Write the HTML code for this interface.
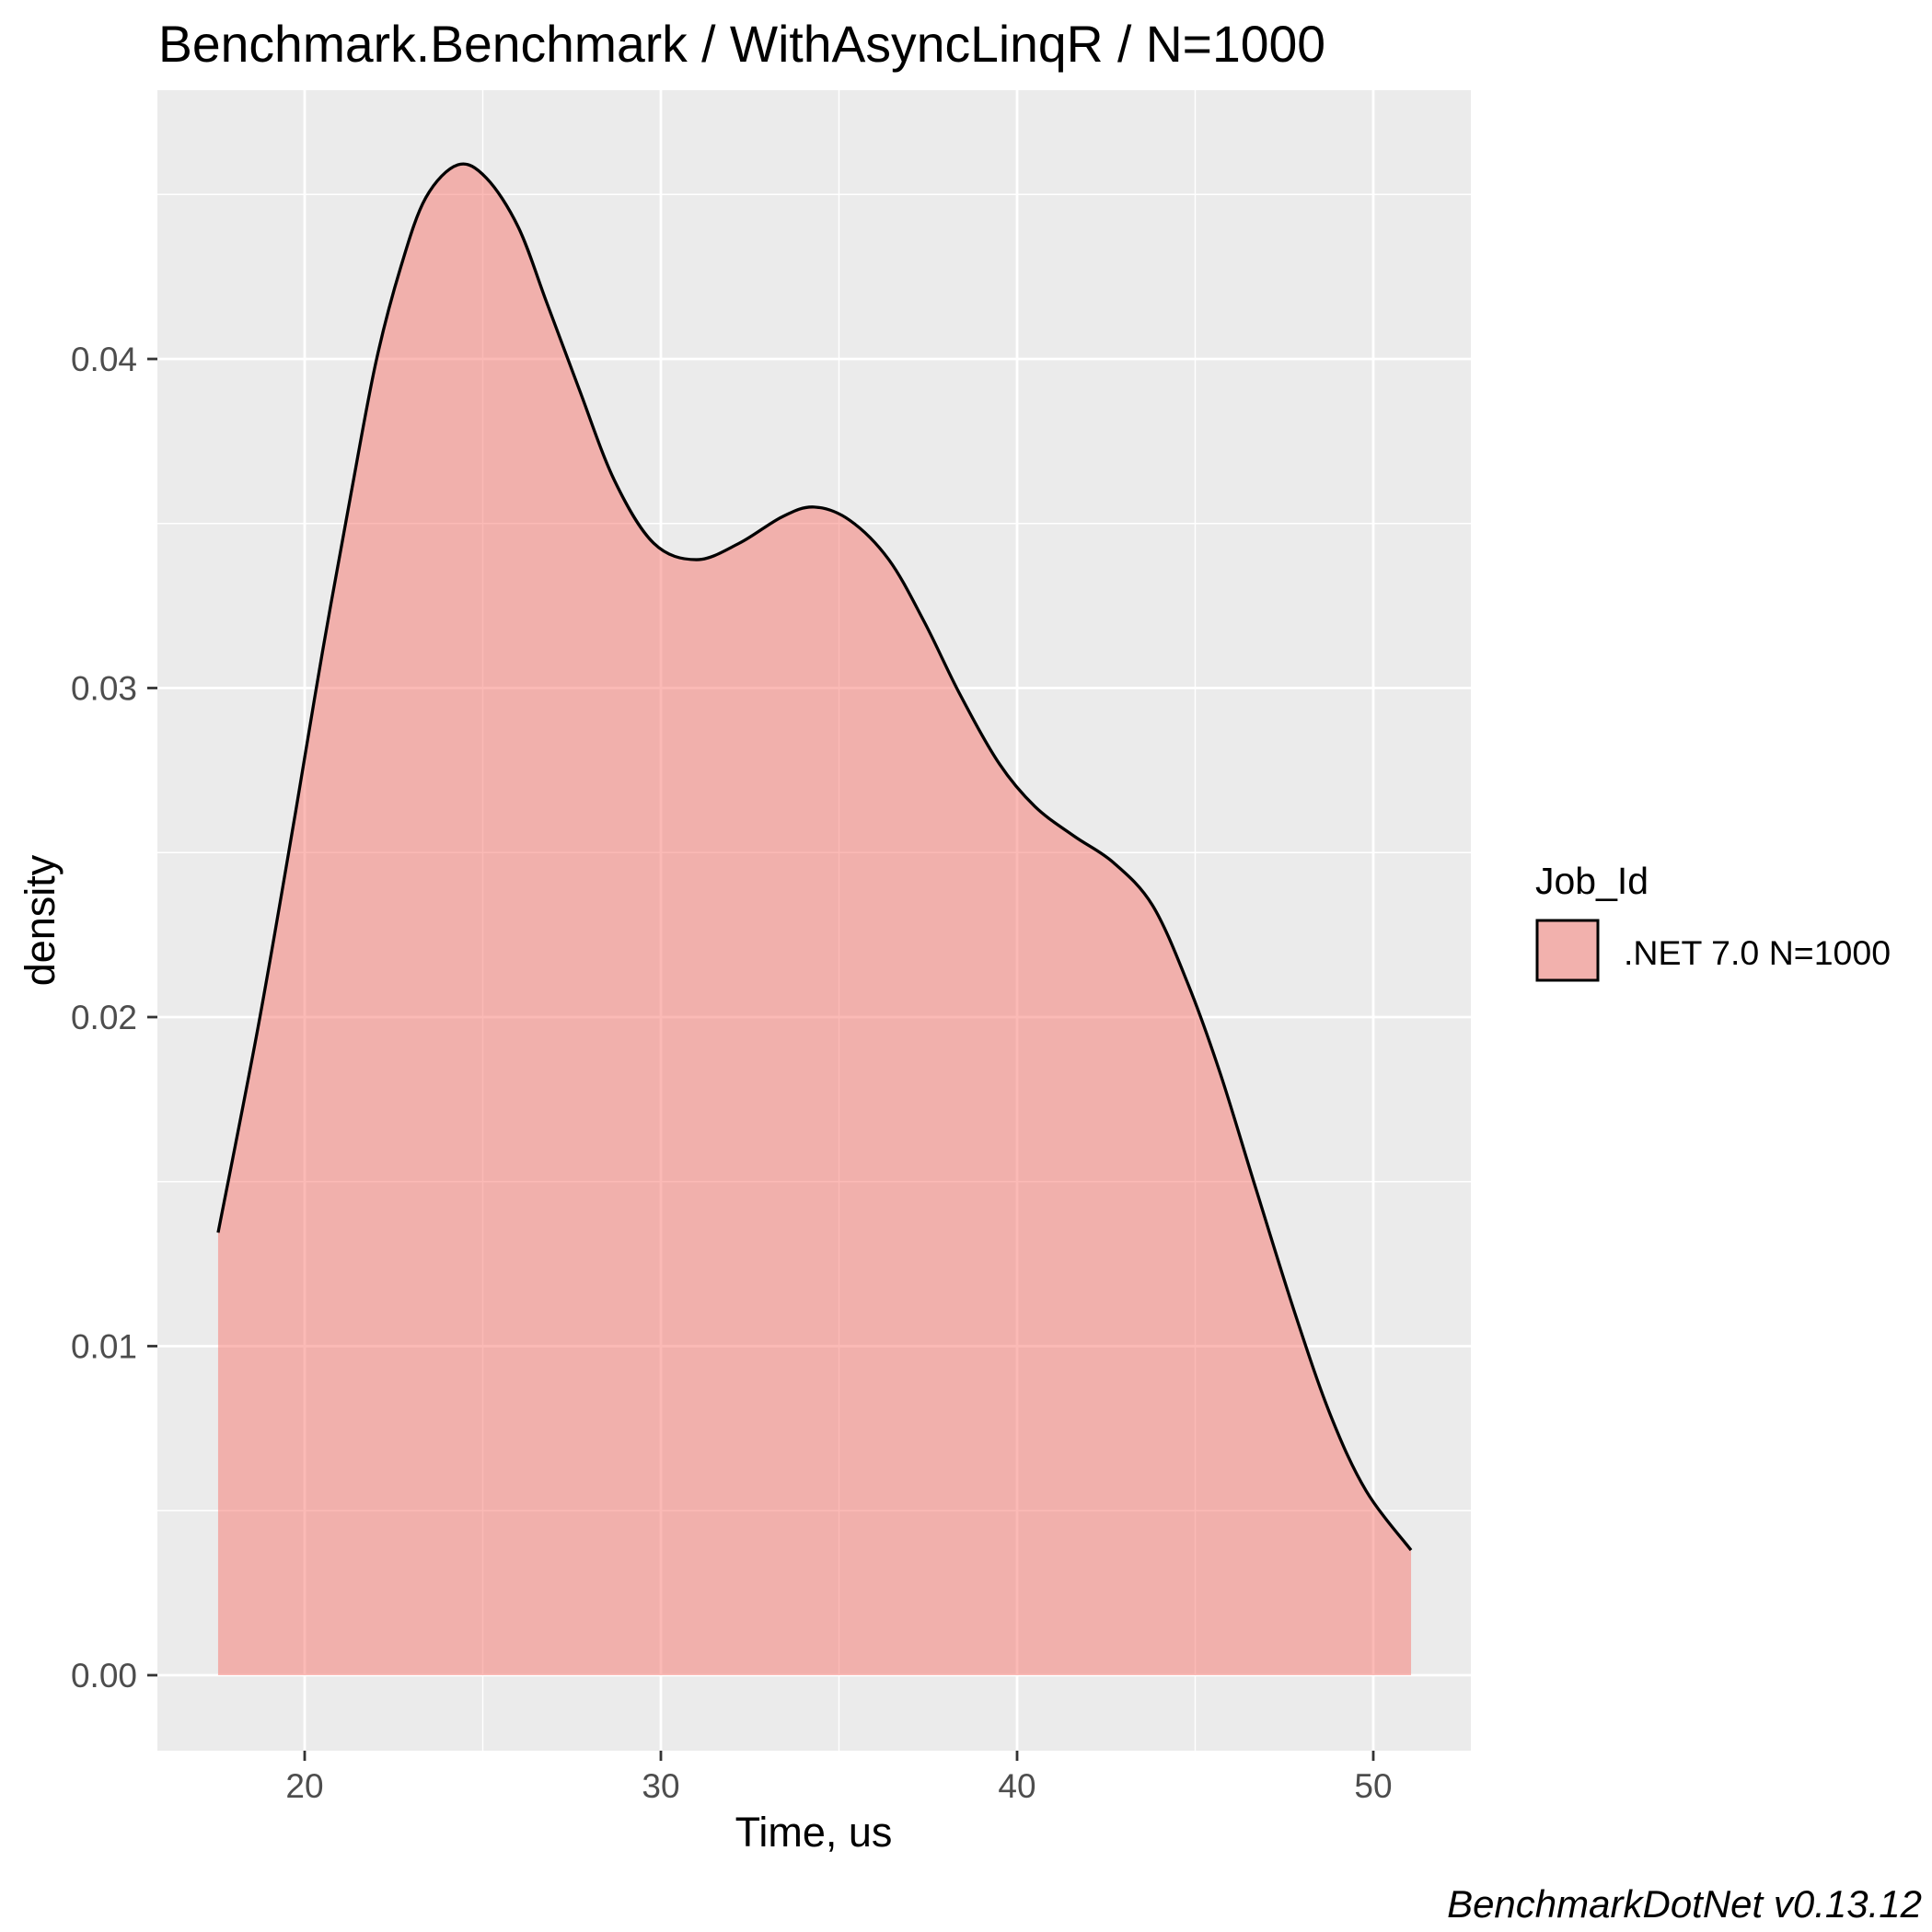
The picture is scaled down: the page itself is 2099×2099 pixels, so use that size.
<!DOCTYPE html>
<html><head><meta charset="utf-8"><style>html,body{margin:0;padding:0;background:#fff}svg{display:block}</style></head>
<body>
<svg id="chart" width="2099" height="2099" viewBox="0 0 2099 2099" xmlns="http://www.w3.org/2000/svg" font-family="Liberation Sans, Arial, sans-serif">
<rect width="2099" height="2099" fill="#ffffff"/>
<text x="172" y="67" font-size="56" fill="#000" textLength="1268" lengthAdjust="spacingAndGlyphs">Benchmark.Benchmark / WithAsyncLinqR / N=1000</text>
<rect x="171" y="98" width="1427" height="1804" fill="#EBEBEB"/>
<g id="grid"></g>
<g id="marks"></g>
<g id="axes"></g>
<text x="884" y="2006" font-size="45" text-anchor="middle" fill="#000">Time, us</text>
<text transform="translate(59,1000) rotate(-90)" font-size="45" text-anchor="middle" fill="#000">density</text>
<text x="1668" y="971" font-size="41" fill="#000">Job_Id</text>
<rect x="1670" y="1000" width="66" height="65" fill="#F2B1AD" stroke="#000" stroke-width="3"/>
<text x="1764" y="1048" font-size="37.5" fill="#000">.NET 7.0 N=1000</text>
<text x="2088" y="2083" font-size="42" font-style="italic" text-anchor="end" fill="#000">BenchmarkDotNet v0.13.12</text>
</svg>
<script>
const timeValues = [17.57,18.71,19.74,20.5,21.3,22.0,22.7,23.4,24.3,25.1,26.0,26.8,27.7,28.7,29.8,31.0,32.2,33.4,34.3,35.3,36.4,37.4,38.4,39.5,40.5,41.6,42.7,43.8,44.8,45.7,46.7,47.8,48.8,49.8,51.06];
const densityValues = [0.01345,0.0198,0.0262,0.0311,0.0359,0.0399,0.0428,0.0449,0.0459,0.0455,0.0440,0.0417,0.0391,0.0363,0.0344,0.0339,0.0344,0.0352,0.0355,0.0351,0.0339,0.0320,0.0298,0.0277,0.0264,0.0255,0.0247,0.0234,0.0210,0.0183,0.0148,0.0110,0.0079,0.0056,0.0038];
const xTicks = [20,30,40,50];
const xMinor = [25,35,45];
const yTicks = [0,0.01,0.02,0.03,0.04];
const yTickLabels = ["0.00","0.01","0.02","0.03","0.04"];
const yMinor = [0.005,0.015,0.025,0.035,0.045];

const NS="http://www.w3.org/2000/svg";
const PX0=171, PX1=1598, PY0=98, PY1=1902;
function xs(v){return 331 + (v-20)*38.7;}
function ys(v){return 1820 - v*35750;}
function mk(tag, attrs, parent){const e=document.createElementNS(NS,tag);for(const k in attrs)e.setAttribute(k,attrs[k]);parent.appendChild(e);return e;}
const grid=document.getElementById('grid'), marks=document.getElementById('marks'), axes=document.getElementById('axes');

yMinor.forEach(v=>{const l=mk('line',{x1:PX0,x2:PX1,y1:ys(v),y2:ys(v),stroke:'#fff','stroke-width':1.4},grid);

});
xMinor.forEach(v=>{const l=mk('line',{x1:xs(v),x2:xs(v),y1:PY0,y2:PY1,stroke:'#fff','stroke-width':1.4},grid);

});
yTicks.forEach((v,i)=>{const l=mk('line',{x1:PX0,x2:PX1,y1:ys(v),y2:ys(v),stroke:'#fff','stroke-width':2.8},grid);


const t=mk('line',{x1:160,x2:171,y1:ys(v),y2:ys(v),stroke:'#333','stroke-width':2.8},axes);


const tx=mk('text',{x:149,y:ys(v)+13,'font-size':37,'text-anchor':'end',fill:'#4D4D4D'},axes);
tx.textContent=yTickLabels[i];

});
xTicks.forEach(v=>{const l=mk('line',{x1:xs(v),x2:xs(v),y1:PY0,y2:PY1,stroke:'#fff','stroke-width':2.8},grid);


const t=mk('line',{x1:xs(v),x2:xs(v),y1:1902,y2:1913,stroke:'#333','stroke-width':2.8},axes);


const tx=mk('text',{x:xs(v),y:1953,'font-size':37,'text-anchor':'middle',fill:'#4D4D4D'},axes);
tx.textContent=String(v);

});

const pts=timeValues.map((t,i)=>[xs(t),ys(densityValues[i])]);
let d='M'+pts[0][0]+','+pts[0][1];
for(let i=0;i<pts.length-1;i++){
  const p0=pts[Math.max(0,i-1)],p1=pts[i],p2=pts[i+1],p3=pts[Math.min(pts.length-1,i+2)];
  const c1=[p1[0]+(p2[0]-p0[0])/6,p1[1]+(p2[1]-p0[1])/6];
  const c2=[p2[0]-(p3[0]-p1[0])/6,p2[1]-(p3[1]-p1[1])/6];
  d+=' C'+c1[0]+','+c1[1]+' '+c2[0]+','+c2[1]+' '+p2[0]+','+p2[1];
}
const last=pts[pts.length-1];
const area=mk('path',{d:d+' L'+last[0]+','+ys(0)+' L'+pts[0][0]+','+ys(0)+' Z',fill:'#F8766D','fill-opacity':0.5},marks);


const line=mk('path',{d:d,fill:'none',stroke:'#000','stroke-width':3.3},marks);


</script>
</body></html>
